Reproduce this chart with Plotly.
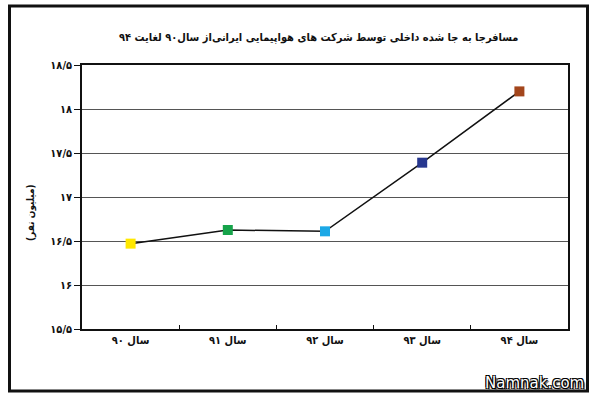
import plotly.graph_objects as go

categories = ["سال ۹۰", "سال ۹۱", "سال ۹۲", "سال ۹۳", "سال ۹۴"]
values = [16.47, 16.625, 16.61, 17.39, 18.2]
marker_colors = ["#FFE800", "#16A34A", "#1CA8E6", "#27378F", "#A3461C"]
y_tickvals = [15.5, 16, 16.5, 17, 17.5, 18, 18.5]
y_ticktext = ["۱۵/۵", "۱۶", "۱۶/۵", "۱۷", "۱۷/۵", "۱۸", "۱۸/۵"]
title_text = "مسافرجا به جا شده داخلی توسط شرکت های هواپیمایی ایرانی‌از سال۹۰ لغایت ۹۴"
y_title = "(میلیون نفر)"

FONT = "DejaVu Sans Condensed"

fig = go.Figure()
fig.add_trace(go.Scatter(
    x=categories, y=values, mode="lines+markers",
    line=dict(color="#111111", width=1.5),
    marker=dict(symbol="square", size=10, color=marker_colors, line=dict(width=0)),
    showlegend=False, hoverinfo="skip",
))

L, R, T, B = 82, 32, 65, 71
W, H = 600, 400
pw, ph = W - L - R, H - T - B

def px(x):
    return (x - L) / pw

def py(y):
    return (H - B - y) / ph

fig.update_layout(
    width=W, height=H,
    margin=dict(l=L, r=R, t=T, b=B),
    paper_bgcolor="white", plot_bgcolor="white",
    font=dict(family=FONT, color="#111111"),
    xaxis=dict(
        type="category", range=[-0.5, 4.5],
        showline=True, linecolor="#111111", linewidth=1.5, mirror=True,
        ticks="inside", tickson="boundaries", ticklen=4, tickcolor="#111111",
        showgrid=False, tickfont=dict(size=11, family=FONT, weight="bold"),
        fixedrange=True,
    ),
    yaxis=dict(
        range=[15.5, 18.5], tickvals=y_tickvals, ticktext=y_ticktext,
        showline=True, linecolor="#111111", linewidth=1.5, mirror=True,
        ticks="outside", ticklen=6, tickcolor="#111111",
        showgrid=True, gridcolor="#555555", gridwidth=1,
        zeroline=False, tickfont=dict(size=11, family=FONT, weight="bold"),
        fixedrange=True,
    ),
    annotations=[
        dict(text=title_text, xref="paper", yref="paper", x=px(318), y=py(38),
             showarrow=False, font=dict(size=11, family=FONT, weight="bold", color="#111111"),
             xanchor="center", yanchor="middle"),
        dict(text=y_title, xref="paper", yref="paper", x=px(31), y=py(213),
             showarrow=False, textangle=-90,
             font=dict(size=10, family=FONT, weight="bold", color="#111111"),
             xanchor="center", yanchor="middle"),
        dict(text="Namnak.com", xref="paper", yref="paper", x=px(586), y=py(383),
             showarrow=False, xanchor="right", yanchor="middle",
             font=dict(size=15, family="DejaVu Sans", color="white",
                       shadow="1px 1px 0 #000, -1px -1px 0 #000, 1px -1px 0 #000, -1px 1px 0 #000, 2px 2px 1px #555")),
    ],
    shapes=[
        dict(type="rect", xref="paper", yref="paper",
             x0=px(9.5), x1=px(587.5), y0=py(391), y1=py(6),
             line=dict(color="#111111", width=3), layer="above"),
    ],
)

fig.write_html("out.html", config={"displayModeBar": False},
               post_script="document.body.style.margin='0';")
